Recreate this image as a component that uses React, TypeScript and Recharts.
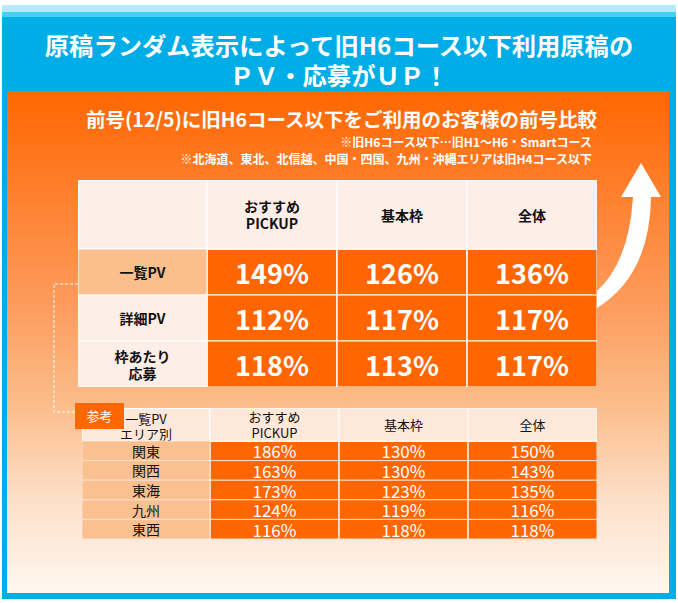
import React from "react";
import { Scatter, ScatterChart, XAxis, YAxis } from "recharts";

const font = '"Noto Sans CJK JP", "Noto Sans", sans-serif';

// 前号比較（一覧PV / 詳細PV / 枠あたり応募）
const mainColumns = ["おすすめ\nPICKUP", "基本枠", "全体"];
const mainRows = ["一覧PV", "詳細PV", "枠あたり\n応募"];
const mainPickup = [149, 112, 118];
const mainBasic = [126, 117, 113];
const mainTotal = [136, 117, 117];

// 参考：一覧PV エリア別
const areaColumns = ["おすすめ\nPICKUP", "基本枠", "全体"];
const areaRows = ["関東", "関西", "東海", "九州", "東西"];
const areaPickup = [186, 163, 173, 124, 116];
const areaBasic = [130, 130, 123, 119, 118];
const areaTotal = [150, 143, 135, 116, 118];

type Cell = { row: string; col: string; value: number };

function toCells(columns: string[], rows: string[], series: number[][]): Cell[] {
  return rows.flatMap((row, r) => columns.map((col, c) => ({ row, col, value: series[c][r] })));
}

const mainCells = toCells(mainColumns, mainRows, [mainPickup, mainBasic, mainTotal]);
const areaCells = toCells(areaColumns, areaRows, [areaPickup, areaBasic, areaTotal]);

type TableProps = {
  width: number;
  height: number;
  labelWidth: number;
  headerHeight: number;
  columns: string[];
  rows: string[];
  cells: Cell[];
  headerFill: string;
  labelFill: string;
  firstLabelFill: string;
  headerSize: number;
  labelSize: number;
  valueSize: number;
  bold: boolean;
  rowLine: string;
};

function Lines({ x, cy, text, size, weight, fill }: any) {
  const lines = String(text).split("\n");
  const lh = size + 3;
  const start = cy - ((lines.length - 1) * lh) / 2;
  return (
    <>
      {lines.map((line, i) => (
        <text
          key={i}
          x={x}
          y={start + i * lh}
          textAnchor="middle"
          dominantBaseline="central"
          fontFamily={font}
          fontSize={size}
          fontWeight={weight}
          fill={fill}
        >
          {line}
        </text>
      ))}
    </>
  );
}

function GridTable(p: TableProps) {
  const colW = (p.width - p.labelWidth) / p.columns.length;
  const rowH = (p.height - p.headerHeight) / p.rows.length;
  const weight = p.bold ? 700 : 400;

  const headerTick = (props: any) => {
    const { x, payload } = props;
    return (
      <g>
        <rect x={x - colW / 2} y={0} width={colW} height={p.headerHeight} fill={p.headerFill} stroke="#fff" />
        <Lines x={x} cy={p.headerHeight / 2} text={payload.value} size={p.headerSize} weight={weight} fill="#111" />
      </g>
    );
  };

  const labelTick = (props: any) => {
    const { y, payload } = props;
    const fill = payload.value === p.rows[0] ? p.firstLabelFill : p.labelFill;
    return (
      <g>
        <rect x={0} y={y - rowH / 2} width={p.labelWidth} height={rowH} fill={fill} stroke={p.rowLine} />
        <Lines x={p.labelWidth / 2} cy={y} text={payload.value} size={p.labelSize} weight={weight} fill="#111" />
      </g>
    );
  };

  const cellShape = (props: any) => {
    const { cx, cy, payload } = props;
    return (
      <g>
        <rect x={cx - colW / 2} y={cy - rowH / 2} width={colW} height={rowH} fill="#ff6600" stroke={p.rowLine} />
        <line x1={cx - colW / 2} x2={cx - colW / 2} y1={cy - rowH / 2} y2={cy + rowH / 2} stroke="#fff" />
        <text
          x={cx}
          y={cy}
          textAnchor="middle"
          dominantBaseline="central"
          fontFamily={font}
          fontSize={p.valueSize}
          fontWeight={weight}
          fill="#fff"
        >
          {payload.value}%
        </text>
      </g>
    );
  };

  return (
    <ScatterChart width={p.width} height={p.height} margin={{ top: 0, right: 0, bottom: 0, left: 0 }}>
      <XAxis
        type="category"
        dataKey="col"
        scale="band"
        orientation="top"
        height={p.headerHeight}
        allowDuplicatedCategory={false}
        axisLine={false}
        tickLine={false}
        interval={0}
        tick={headerTick}
      />
      <YAxis
        type="category"
        dataKey="row"
        scale="band"
        width={p.labelWidth}
        reversed
        allowDuplicatedCategory={false}
        axisLine={false}
        tickLine={false}
        interval={0}
        tick={labelTick}
      />
      <Scatter data={p.cells} shape={cellShape} isAnimationActive={false} />
    </ScatterChart>
  );
}

export default function App() {
  return (
    <div style={{ position: "relative", width: 678, height: 603, background: "#fff", overflow: "hidden", fontFamily: font }}>
      <style>{"body{margin:0}"}</style>
      {/* blue frame */}
      <div style={{ position: "absolute", left: 2, top: 5, width: 674, height: 594, background: "#00ade6" }} />
      <div style={{ position: "absolute", left: 2, top: 5, width: 674, height: 7, background: "#b4ecfa" }} />
      <div style={{ position: "absolute", left: 2, top: 12, width: 674, height: 5, background: "#45d1f6" }} />
      <div
        style={{
          position: "absolute",
          left: 0,
          top: 30,
          width: 678,
          textAlign: "center",
          color: "#fff",
          fontWeight: 700,
          fontSize: 24.3,
          lineHeight: "30px"
        }}
      >
        原稿ランダム表示によって旧H6コース以下利用原稿の
        <br />
        ＰＶ・応募がＵＰ！
      </div>
      {/* orange panel */}
      <div
        style={{
          position: "absolute",
          left: 7,
          top: 91,
          width: 662,
          height: 502,
          background:
            "linear-gradient(#ff6600 0%, #ff7d28 18%, #fd9b5c 42%, #fbbc89 62%, #fde0ca 82%, #fff7f0 100%)"
        }}
      />
      <div style={{ position: "absolute", left: 86, top: 106, color: "#fff", fontWeight: 700, fontSize: 19.5, lineHeight: "26px", whiteSpace: "nowrap" }}>
        前号(12/5)に旧H6コース以下をご利用のお客様の前号比較
      </div>
      <div
        style={{
          position: "absolute",
          right: 86,
          top: 133,
          color: "#fff",
          fontWeight: 700,
          fontSize: 12,
          lineHeight: "17px",
          textAlign: "right",
          whiteSpace: "nowrap"
        }}
      >
        ※旧H6コース以下…旧H1～H6・Smartコース
        <br />
        ※北海道、東北、北信越、中国・四国、九州・沖縄エリアは旧H4コース以下
      </div>

      {/* main table */}
      <div style={{ position: "absolute", left: 78, top: 180, width: 129, height: 69, background: "#fdeee8", boxSizing: "border-box", border: "1px solid #fff" }} />
      <div style={{ position: "absolute", left: 78, top: 180 }}>
        <GridTable
          width={519}
          height={207}
          labelWidth={129}
          headerHeight={69}
          columns={mainColumns}
          rows={mainRows}
          cells={mainCells}
          headerFill="#fdeee8"
          labelFill="#fdeee8"
          firstLabelFill="#fbbf8e"
          headerSize={14}
          labelSize={14}
          valueSize={27}
          bold
          rowLine="#fff"
        />
      </div>

      {/* reference table */}
      <div
        style={{
          position: "absolute",
          left: 82,
          top: 408,
          width: 128,
          height: 33,
          background: "#fde8da",
          boxSizing: "border-box",
          border: "1px solid #fff",
          textAlign: "center",
          fontSize: 13,
          lineHeight: "15px",
          paddingTop: 2,
          color: "#111"
        }}
      >
        一覧PV
        <br />
        エリア別
      </div>
      <div style={{ position: "absolute", left: 82, top: 408 }}>
        <GridTable
          width={515}
          height={131}
          labelWidth={128}
          headerHeight={33}
          columns={areaColumns}
          rows={areaRows}
          cells={areaCells}
          headerFill="#fde8da"
          labelFill="#fbc08f"
          firstLabelFill="#fbc08f"
          headerSize={13}
          labelSize={14}
          valueSize={17}
          bold={false}
          rowLine="#ffe0cc"
        />
      </div>

      <svg width={678} height={603} style={{ position: "absolute", left: 0, top: 0, pointerEvents: "none" }}>
        <path d="M 597 291 Q 629 262 633 197 L 621 197 L 641 163 L 661 197 L 651 197 Q 650 275 597 308 Z" fill="#fff" />
        <path d="M 78 284 H 54 V 412 H 76" fill="none" stroke="#fff" strokeWidth={1} strokeDasharray="3 2" />
      </svg>
      <div
        style={{
          position: "absolute",
          left: 75,
          top: 403,
          width: 49,
          height: 26,
          background: "#ff6600",
          color: "#fff",
          fontSize: 13,
          lineHeight: "26px",
          textAlign: "center"
        }}
      >
        参考
      </div>
    </div>
  );
}
